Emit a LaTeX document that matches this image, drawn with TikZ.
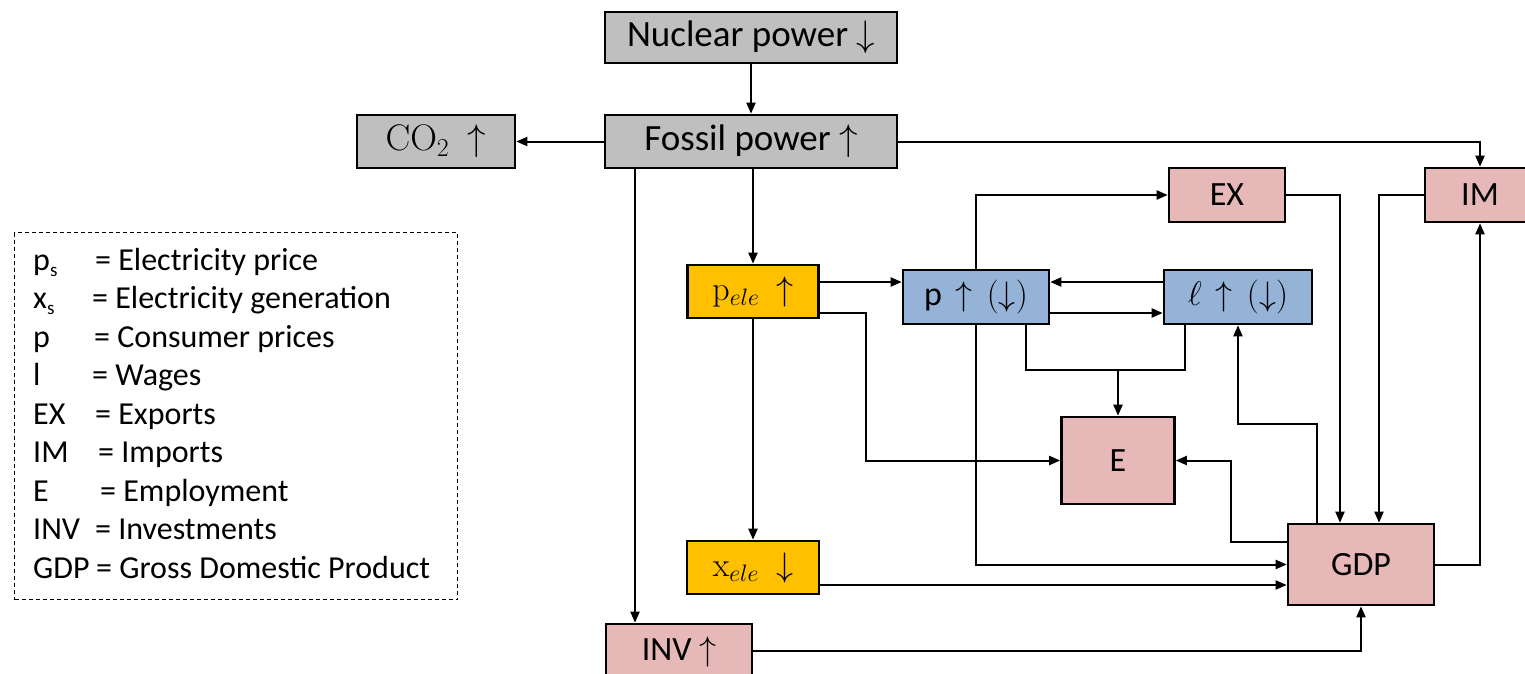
\RequirePackage{fix-cm}
\documentclass[tikz,border=0pt]{standalone}
\usepackage[no-math]{fontspec}
\setmainfont{Carlito}
\usetikzlibrary{arrows.meta,calc}
\definecolor{gbox}{HTML}{BFBFBF}
\definecolor{pbox}{HTML}{E6B9B8}
\definecolor{ybox}{HTML}{FFC000}
\definecolor{bbox}{HTML}{95B3D7}
\tikzset{
 box/.style={draw=black, line width=2.6pt, inner sep=0pt, align=center},
 big/.style={font=\fontsize{37}{44}\selectfont},
 mid/.style={font=\fontsize{34}{40}\selectfont},
 arr/.style={line width=2pt, -{Triangle[length=11pt,width=9pt]}},
 ln/.style={line width=2pt},
 leg/.style={font=\fontsize{32}{38}\selectfont, anchor=base west, inner sep=0pt},
}
\begin{document}
\begin{tikzpicture}[x=1pt,y=-1pt]
\useasboundingbox (0,0) rectangle (1525,674);
% boxes
\node[box,big,fill=gbox,minimum width=292pt,minimum height=51pt] (nuc) at (751,37.5) {Nuclear power $\downarrow$};
\node[box,big,fill=gbox,minimum width=292pt,minimum height=53pt] (fos) at (751,141.5) {Fossil power $\uparrow$};
\node[box,big,fill=gbox,minimum width=158pt,minimum height=53pt] (co2) at (436,141.5) {$\mathrm{CO}_2\ \uparrow$};
\node[box,mid,fill=ybox,minimum width=131pt,minimum height=53pt] (pele) at (753,291.5) {$\mathrm{p}_{ele}\ \uparrow$};
\node[box,mid,fill=bbox,minimum width=146pt,minimum height=54pt] (p) at (976,297) {p\hspace{14pt}$\uparrow$\hspace{14pt}$(\downarrow)$};
\node[box,mid,fill=bbox,minimum width=148pt,minimum height=54pt] (l) at (1238,297) {$\ell$\hspace{14pt}$\uparrow$\hspace{14pt}$(\downarrow)$};
\node[box,mid,fill=pbox,minimum width=116pt,minimum height=54pt] (ex) at (1227,195) {EX};
\node[box,mid,fill=pbox,minimum width=110pt,minimum height=54pt] (im) at (1480,195) {IM};
\node[box,mid,fill=pbox,minimum width=113pt,minimum height=87pt] (E) at (1118,460.5) {E};
\node[box,mid,fill=pbox,minimum width=146pt,minimum height=81pt] (gdp) at (1361,564.5) {GDP};
\node[box,mid,fill=ybox,minimum width=132pt,minimum height=53pt] (xele) at (753,567.5) {$\mathrm{x}_{ele}\ \downarrow$};
\node[box,mid,fill=pbox,minimum width=146pt,minimum height=56pt] (inv) at (679,652) {INV $\uparrow$};
% connectors
\draw[arr] (nuc) -- (fos);
\draw[arr] (fos) -- (co2);
\draw[arr] (fos.east) -| (im.north);
\draw[arr] (635,0 |- fos.south) -- (635,0 |- inv.north);
\draw[arr] (pele.north |- fos.south) -- (pele.north);
\draw[arr] (pele.east |- 0,282) -- (p.west |- 0,282);
\draw[arr] (pele.east |- 0,313) -| (866,0 |- E.west) -- (E.west);
\draw[arr] (pele.south) -- (xele.north);
\draw[arr] (xele.east |- 0,585) -- (gdp.west |- 0,585);
\draw[arr] (inv.east |- 0,651) -| (gdp.south);
\draw[arr] (p.north) |- (ex.west);
\draw[arr] (l.west |- 0,282) -- (p.east |- 0,282);
\draw[arr] (p.east |- 0,313) -- (l.west |- 0,313);
\draw[arr] (p.south) |- (gdp.west);
\draw[ln] (1026,0 |- p.south) |- (1185,370) -- (1185,0 |- l.south);
\draw[arr] (E.north |- 0,370) -- (E.north);
\draw[arr] (1317,0 |- gdp.north) |- (l.south |- 0,424) -- (l.south);
\draw[arr] (gdp.west |- 0,542) -| (1231,0 |- E.east) -- (E.east);
\draw[arr] (ex.east) -| (1340,0 |- gdp.north);
\draw[arr] (im.west) -| (1379,0 |- gdp.north);
\draw[arr] (gdp.east) -| (im.south);
% legend
\node[draw, line width=1.3pt, dash pattern=on 4pt off 3pt, minimum width=443pt, minimum height=367pt, anchor=north west, inner sep=0pt] (legend) at (14,232) {};
\node[leg] (k1) at (33,270) {p\raisebox{-6pt}{\fontsize{19}{19}\selectfont s}};
\node[leg] (v1) at (95,270) {= Electricity price};
\node[leg] (k2) at (33,308.5) {x\raisebox{-6pt}{\fontsize{19}{19}\selectfont s}};
\node[leg] (v2) at (92,308.5) {= Electricity generation};
\node[leg] (k3) at (33,347) {p};
\node[leg] (v3) at (94,347) {= Consumer prices};
\node[leg] (k4) at (33,385.5) {l};
\node[leg] (v4) at (92,385.5) {= Wages};
\node[leg] (k5) at (33,424) {EX};
\node[leg] (v5) at (95,424) {= Exports};
\node[leg] (k6) at (33,462.5) {IM};
\node[leg] (v6) at (98,462.5) {= Imports};
\node[leg] (k7) at (33,501) {E};
\node[leg] (v7) at (100,501) {= Employment};
\node[leg] (k8) at (33,539.5) {INV};
\node[leg] (v8) at (95,539.5) {= Investments};
\node[leg] (k9) at (33,578) {GDP};
\node[leg] (v9) at (96,578) {= Gross Domestic Product};
\end{tikzpicture}
\end{document}
